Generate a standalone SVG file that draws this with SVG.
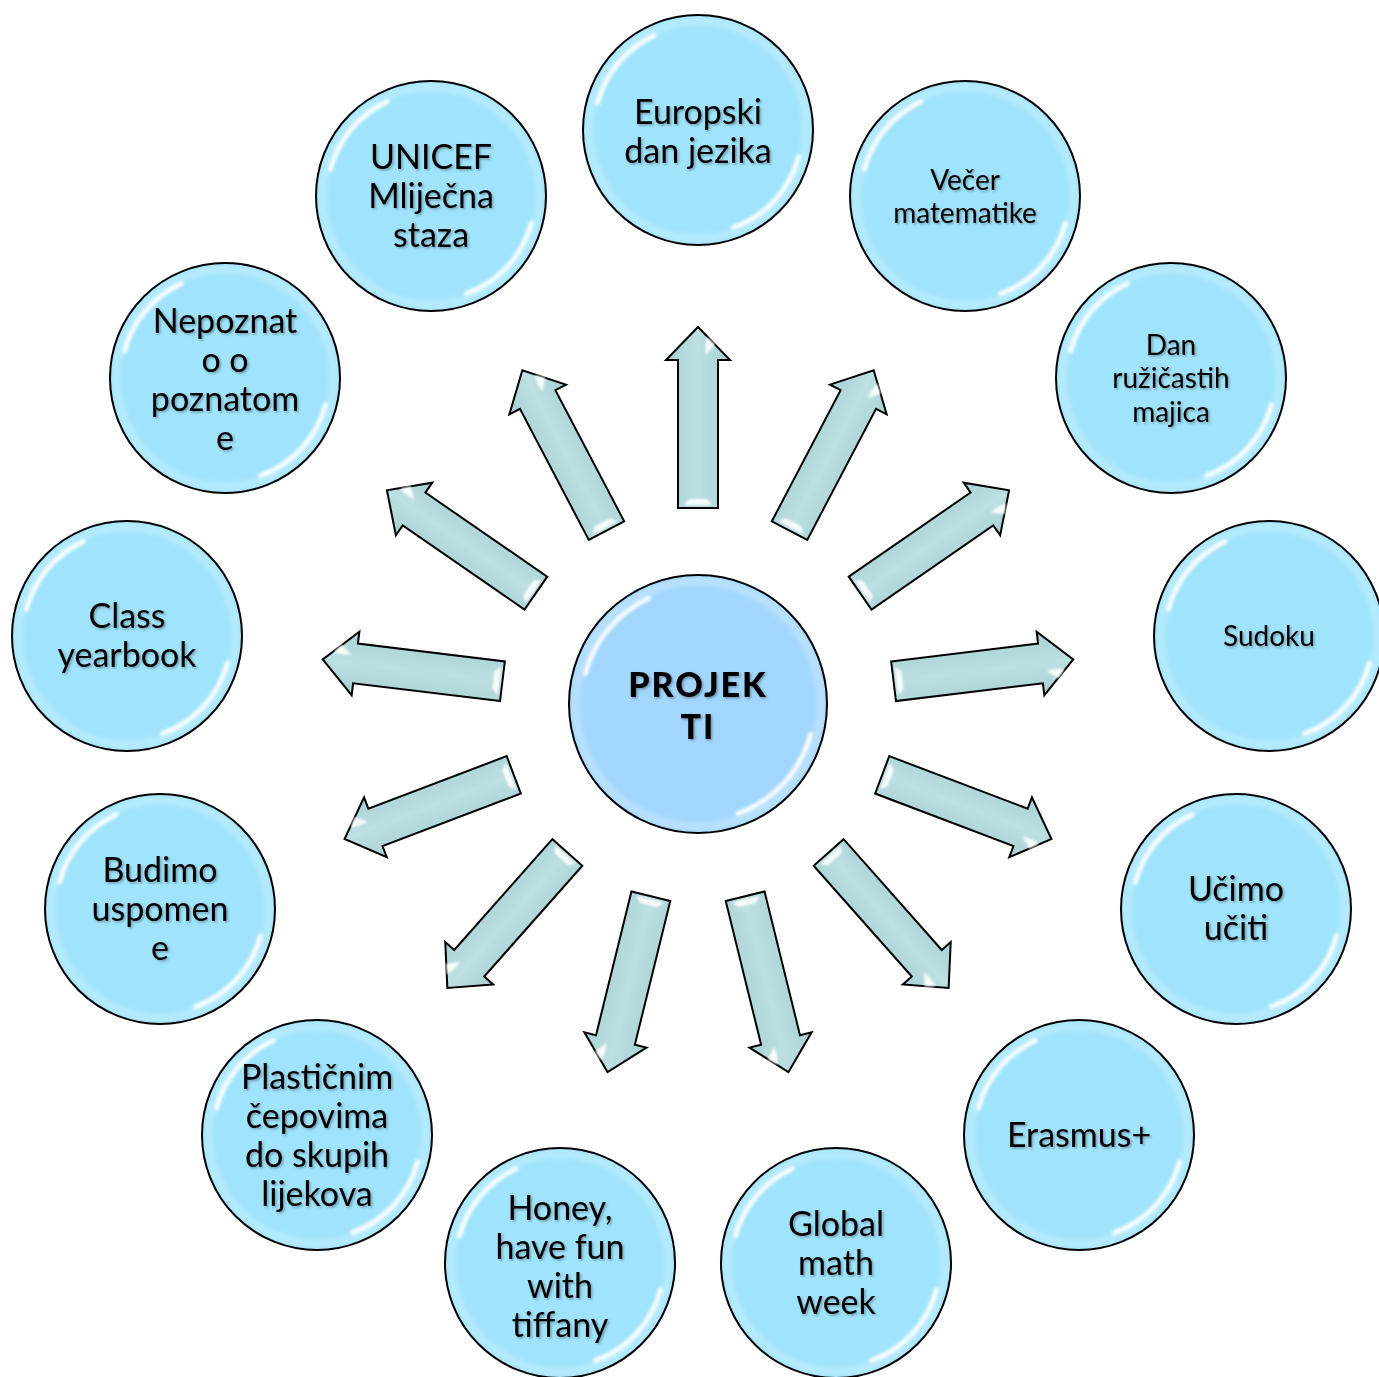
<svg xmlns="http://www.w3.org/2000/svg" xmlns:xlink="http://www.w3.org/1999/xlink" width="1379" height="1377" viewBox="0 0 1379 1377">
<style>
  .lbl { font-family: Lato, "Gill Sans", "Liberation Sans", sans-serif; fill: #000; text-anchor: middle; filter: url(#tshadow); }
  .big { font-size: 34px; }
  .small { font-size: 28px; }
  .center { font-size: 34px; font-weight: 900; letter-spacing: 2px; }
  .edge { fill: none; stroke: #000; stroke-width: 2; }
  .glint { fill: none; stroke: #fff; stroke-width: 5; stroke-linecap: round; filter: url(#soft); opacity: 0.9; }
  .inner { fill: none; stroke: #c9f1ff; stroke-width: 7; filter: url(#blur3); opacity: 0.7; }
  .arrow { fill: url(#arrowFill); stroke: #000; stroke-width: 2; stroke-linejoin: miter; }
  .aglint { fill: #fff; filter: url(#soft1); opacity: 0.9; }
</style>
<defs>
  <filter id="tshadow" x="-10%" y="-30%" width="130%" height="170%">
    <feDropShadow dx="1.5" dy="1.5" stdDeviation="1" flood-color="#000" flood-opacity="0.3"/>
  </filter>
  <filter id="soft" x="-50%" y="-50%" width="200%" height="200%"><feGaussianBlur stdDeviation="1.8"/></filter>
  <filter id="soft1" x="-50%" y="-50%" width="200%" height="200%"><feGaussianBlur stdDeviation="0.9"/></filter>
  <filter id="blur3" x="-20%" y="-20%" width="140%" height="140%"><feGaussianBlur stdDeviation="3"/></filter>
  <linearGradient id="arrowFill" gradientUnits="userSpaceOnUse" x1="0" y1="-32" x2="0" y2="32">
    <stop offset="0" stop-color="#a6d0d3"/>
    <stop offset="0.5" stop-color="#bde0e2"/>
    <stop offset="1" stop-color="#a6d0d3"/>
  </linearGradient>
  <g id="bubble">
    <circle r="115" fill="#9fe3fc"/>
    <circle r="109" class="inner"/>
    <path class="glint" d="M-100.5,-26.9 A104,104 0 0 1 -44,-94.3"/>
    <path class="glint" d="M100.5,26.9 A104,104 0 0 1 35.6,97.7"/>
    <circle r="115" class="edge"/>
  </g>
  <g id="arrow">
    <path class="arrow" d="M197,-20 L345,-20 L345,-32 L378,0 L345,32 L345,20 L197,20 Z"/>
    <path class="aglint" d="M200,-14 L206,-9 L206,9 L200,14 Z"/>
    <path class="aglint" d="M350,8 Q361,6 368,9 L361,17 Q355,12 350,8 Z"/>
  </g>
</defs>
<rect width="1379" height="1377" fill="#fff"/>

<g id="connectors">
  <use href="#arrow" transform="translate(698,705) rotate(-90)"/>
  <use href="#arrow" transform="translate(698,705) rotate(-62.308)"/>
  <use href="#arrow" transform="translate(698,705) rotate(-34.615)"/>
  <use href="#arrow" transform="translate(698,705) rotate(-6.923)"/>
  <use href="#arrow" transform="translate(698,705) rotate(20.769)"/>
  <use href="#arrow" transform="translate(698,705) rotate(48.462)"/>
  <use href="#arrow" transform="translate(698,705) rotate(76.154)"/>
  <use href="#arrow" transform="translate(698,705) rotate(103.846)"/>
  <use href="#arrow" transform="translate(698,705) rotate(131.538)"/>
  <use href="#arrow" transform="translate(698,705) rotate(159.231)"/>
  <use href="#arrow" transform="translate(698,705) rotate(186.923)"/>
  <use href="#arrow" transform="translate(698,705) rotate(214.615)"/>
  <use href="#arrow" transform="translate(698,705) rotate(242.308)"/>
</g>

<g id="node-center" transform="translate(698,704)">
  <circle r="129" fill="#a1d6fd"/>
  <circle r="123" class="inner" style="stroke:#cdeaff"/>
  <path class="glint" d="M-112.7,-30.2 A116.7,116.7 0 0 1 -49.3,-105.8"/>
  <path class="glint" d="M112.7,30.2 A116.7,116.7 0 0 1 39.9,109.7"/>
  <circle r="129" class="edge"/>
  <text class="lbl center" x="0" y="-7">PROJEK</text>
  <text class="lbl center" x="0" y="35">TI</text>
</g>

<g id="node-europski" transform="translate(698,130)">
  <use href="#bubble"/>
  <text class="lbl big" x="0" y="-6">Europski</text>
  <text class="lbl big" x="0" y="33">dan jezika</text>
</g>

<g id="node-vecer" transform="translate(965,196)">
  <use href="#bubble"/>
  <text class="lbl small" x="0" y="-6">Večer</text>
  <text class="lbl small" x="0" y="27">matematike</text>
</g>

<g id="node-dan" transform="translate(1171,378)">
  <use href="#bubble"/>
  <text class="lbl small" x="0" y="-23">Dan</text>
  <text class="lbl small" x="0" y="10">ružičastih</text>
  <text class="lbl small" x="0" y="44">majica</text>
</g>

<g id="node-sudoku" transform="translate(1269,636)">
  <use href="#bubble"/>
  <text class="lbl small" x="0" y="10">Sudoku</text>
</g>

<g id="node-ucimo" transform="translate(1236,909)">
  <use href="#bubble"/>
  <text class="lbl big" x="0" y="-8">Učimo</text>
  <text class="lbl big" x="0" y="31">učiti</text>
</g>

<g id="node-erasmus" transform="translate(1079,1135)">
  <use href="#bubble"/>
  <text class="lbl big" x="0" y="12">Erasmus+</text>
</g>

<g id="node-global" transform="translate(836,1263)">
  <use href="#bubble"/>
  <text class="lbl big" x="0" y="-27">Global</text>
  <text class="lbl big" x="0" y="12">math</text>
  <text class="lbl big" x="0" y="51">week</text>
</g>

<g id="node-honey" transform="translate(560,1263)">
  <use href="#bubble"/>
  <text class="lbl big" x="0" y="-43">Honey,</text>
  <text class="lbl big" x="0" y="-4">have fun</text>
  <text class="lbl big" x="0" y="35">with</text>
  <text class="lbl big" x="0" y="74">tiffany</text>
</g>

<g id="node-plasticnim" transform="translate(317,1135)">
  <use href="#bubble"/>
  <text class="lbl big" x="0" y="-46">Plastičnim</text>
  <text class="lbl big" x="0" y="-7">čepovima</text>
  <text class="lbl big" x="0" y="32">do skupih</text>
  <text class="lbl big" x="0" y="71">lijekova</text>
</g>

<g id="node-budimo" transform="translate(160,909)">
  <use href="#bubble"/>
  <text class="lbl big" x="0" y="-27">Budimo</text>
  <text class="lbl big" x="0" y="12">uspomen</text>
  <text class="lbl big" x="0" y="51">e</text>
</g>

<g id="node-class" transform="translate(127,636)">
  <use href="#bubble"/>
  <text class="lbl big" x="0" y="-8">Class</text>
  <text class="lbl big" x="0" y="31">yearbook</text>
</g>

<g id="node-nepoznato" transform="translate(225,378)">
  <use href="#bubble"/>
  <text class="lbl big" x="0" y="-45">Nepoznat</text>
  <text class="lbl big" x="0" y="-6">o o</text>
  <text class="lbl big" x="0" y="33">poznatom</text>
  <text class="lbl big" x="0" y="72">e</text>
</g>

<g id="node-unicef" transform="translate(431,196)">
  <use href="#bubble"/>
  <text class="lbl big" x="0" y="-27">UNICEF</text>
  <text class="lbl big" x="0" y="12">Mliječna</text>
  <text class="lbl big" x="0" y="51">staza</text>
</g>
</svg>
